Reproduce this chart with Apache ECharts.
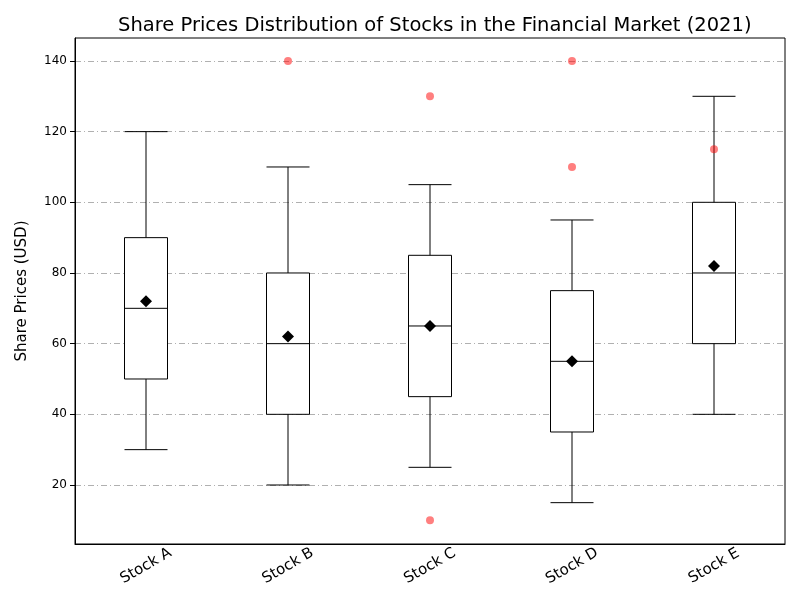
<!DOCTYPE html>
<html>
<head>
<meta charset="utf-8">
<script src="https://cdn.jsdelivr.net/npm/echarts@6/dist/echarts.min.js"></script>
</head>
<body style="margin:0">
<div id="chart" style="width:800px;height:600px"></div>
<script>
var categories = ['Stock A', 'Stock B', 'Stock C', 'Stock D', 'Stock E'];
// [min, Q1, median, Q3, max]
var boxData = [
    [30, 50, 70, 90, 120],
    [20, 40, 60, 80, 110],
    [25, 45, 65, 85, 105],
    [15, 35, 55, 75, 95],
    [40, 60, 80, 100, 130]
];
var means = [72, 62, 65, 55, 82];
var outliers = [
    ['Stock B', 140],
    ['Stock C', 130], ['Stock C', 10],
    ['Stock D', 110], ['Stock D', 140],
    ['Stock E', 115]
];
var yTicks = [20, 40, 60, 80, 100, 120, 140];

var chart = echarts.init(document.getElementById('chart'));
chart.setOption({
    animation: false,
    title: {
        text: 'Share Prices Distribution of Stocks in the Financial Market (2021)',
        left: 113, top: 11,
        textStyle: { fontSize: 19.5, fontWeight: 'normal', color: '#000', fontFamily: 'DejaVu Sans' }
    },
    grid: { left: 75, right: 15, top: 38, bottom: 56, show: true, borderColor: '#000', borderWidth: 1 },
    xAxis: {
        type: 'category',
        data: categories,
        axisLine: { show: true, onZero: false, lineStyle: { color: '#000' } },
        axisTick: { alignWithLabel: true, lineStyle: { color: '#000' } },
        axisLabel: { rotate: 30, align: 'center', fontSize: 15, color: '#000', fontFamily: 'DejaVu Sans', margin: 22 },
        splitLine: { show: false }
    },
    yAxis: {
        type: 'value',
        min: 3.3, max: 146.5,
        name: 'Share Prices (USD)',
        nameLocation: 'middle', nameGap: 45,
        nameTextStyle: { fontSize: 15, color: '#000', fontFamily: 'DejaVu Sans' },
        axisLine: { show: true, lineStyle: { color: '#000' } },
        axisTick: { show: true, customValues: yTicks, lineStyle: { color: '#000' } },
        axisLabel: { customValues: yTicks, color: '#000', fontSize: 12, fontFamily: 'DejaVu Sans' },
        splitLine: { show: true, lineStyle: { color: '#b0b0b0', type: [6, 3, 1, 3] } }
    },
    series: [
        {
            type: 'boxplot',
            data: boxData,
            boxWidth: [43, 43],
            itemStyle: { color: '#fff', borderColor: '#000', borderWidth: 1 },
            z: 3
        },
        {
            type: 'scatter',
            data: outliers,
            symbol: 'circle',
            symbolSize: 8,
            itemStyle: { color: '#ff0000', opacity: 0.5 },
            z: 4
        },
        {
            type: 'scatter',
            data: means,
            symbol: 'diamond',
            symbolSize: 12,
            itemStyle: { color: '#000', opacity: 1 },
            z: 5
        }
    ]
});
</script>
</body>
</html>
